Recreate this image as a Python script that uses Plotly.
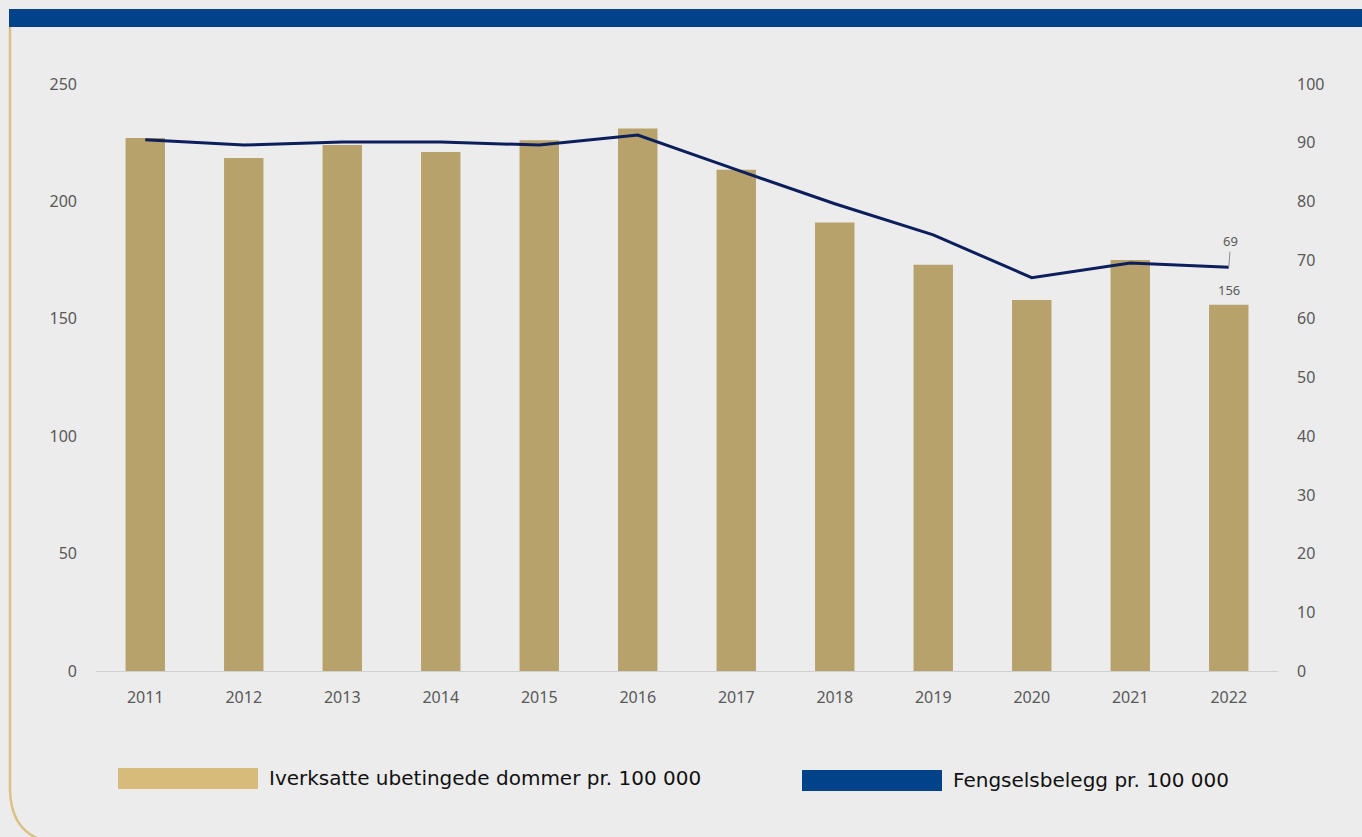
import plotly.graph_objects as go

years = ["2011", "2012", "2013", "2014", "2015", "2016",
         "2017", "2018", "2019", "2020", "2021", "2022"]
dommer = [227, 218.5, 224, 221, 226, 231, 213.5, 191, 173, 158, 175, 156]
fengsel = [90.5, 89.6, 90.1, 90.1, 89.6, 91.3, 85.4, 79.6, 74.3, 67.0, 69.5, 68.8]

W, H = 1362, 837
L, R, T, B = 96, 84, 84, 166
pw, ph = W - L - R, H - T - B

def px(x):
    return (x - L) / pw

def py(y):
    return (H - B - y) / ph

fig = go.Figure()
fig.add_trace(go.Bar(x=years, y=dommer, marker_color="#b8a26b",
                     marker_line_width=0,
                     name="Iverksatte ubetingede dommer pr. 100 000"))
fig.add_trace(go.Scatter(x=years, y=fengsel, yaxis="y2", mode="lines",
                         line=dict(color="#0c1f5c", width=3),
                         name="Fengselsbelegg pr. 100 000"))

shapes = [
    # blue bar across the top
    dict(type="rect", xref="paper", yref="paper", x0=px(9), x1=px(W), y0=py(27), y1=py(9),
         fillcolor="#00438a", line_width=0, layer="above"),
    # gold frame on the left with rounded corner
    dict(type="path", xref="paper", yref="paper",
         path=f"M {px(10)},{py(27)} L {px(10)},{py(790)} Q {px(11)},{py(830)} {px(42)},{py(840)}",
         line=dict(color="#dcc184", width=2.5)),
    # legend swatches
    dict(type="rect", xref="paper", yref="paper", x0=px(118), x1=px(258), y0=py(789), y1=py(768),
         fillcolor="#d6bb7a", line_width=0),
    dict(type="rect", xref="paper", yref="paper", x0=px(802), x1=px(942), y0=py(791), y1=py(770),
         fillcolor="#00438a", line_width=0),
]

last = len(years) - 1
annotations = [
    dict(xref="paper", yref="paper", x=px(267), y=py(778), xanchor="left", yanchor="middle",
         text="Iverksatte ubetingede dommer pr. 100 000", showarrow=False,
         font=dict(family="DejaVu Sans", size=20, color="#111111")),
    dict(xref="paper", yref="paper", x=px(951), y=py(780), xanchor="left", yanchor="middle",
         text="Fengselsbelegg pr. 100 000", showarrow=False,
         font=dict(family="DejaVu Sans", size=20, color="#111111")),
    dict(x=last, y=dommer[-1], xref="x", yref="y", text="156", showarrow=False,
         yanchor="bottom", yshift=4, font=dict(size=13, color="#595959")),
    dict(x=last, y=fengsel[-1], xref="x", yref="y2", text="69", showarrow=True,
         arrowhead=0, arrowwidth=1, arrowcolor="#8c8c8c", ax=2, ay=-26,
         font=dict(size=13, color="#595959")),
]

fig.update_layout(
    width=W, height=H,
    margin=dict(l=L, r=R, t=T, b=B),
    paper_bgcolor="#ececec", plot_bgcolor="#ececec",
    font=dict(family="Noto Sans", color="#595959", size=16),
    showlegend=False,
    bargap=0.6,
    xaxis=dict(type="category", range=[-0.5, last + 0.5], showgrid=False, showline=True,
               linecolor="#d0d0d0", linewidth=1, ticks="", tickfont=dict(size=16),
               ticklabelstandoff=12),
    yaxis=dict(range=[0, 250], dtick=50, showgrid=False, zeroline=False,
               ticklabelstandoff=18),
    yaxis2=dict(range=[0, 100], dtick=10, overlaying="y", side="right",
                showgrid=False, zeroline=False, ticklabelstandoff=18),
    shapes=shapes,
    annotations=annotations,
)

fig.write_html("out.html", config={"displayModeBar": False},
               post_script="document.body.style.margin='0';")
